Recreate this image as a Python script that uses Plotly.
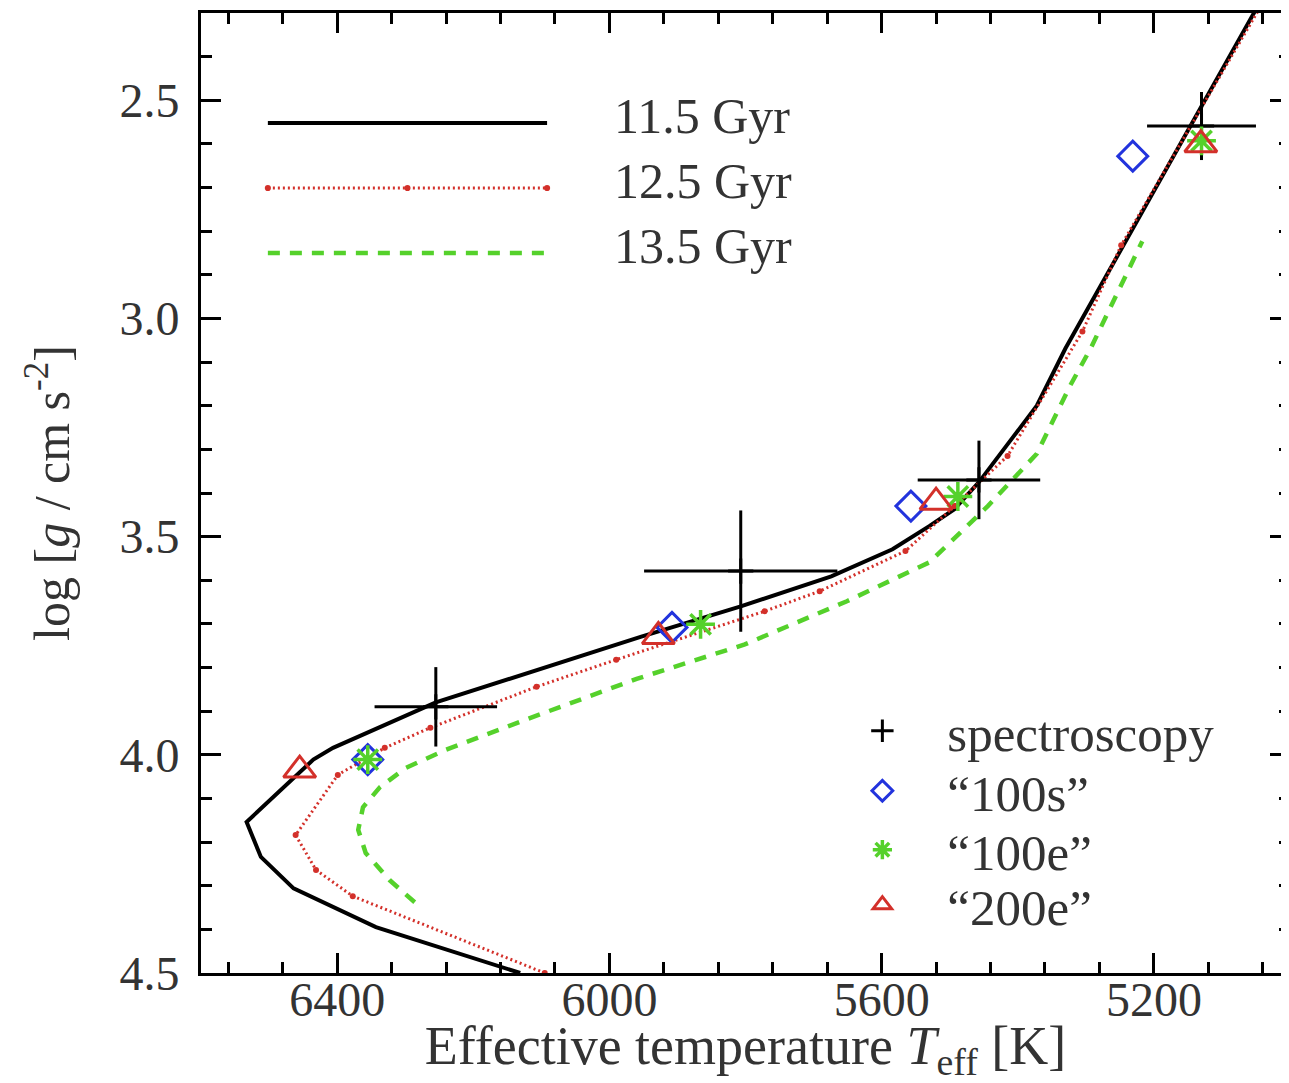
import plotly.graph_objects as go

# ---------------- data ----------------
teff_115 = [6131, 6343, 6464, 6512, 6533, 6435, 6406, 6255, 5953, 5807, 5674, 5584, 5530, 5493, 5457, 5372, 5330, 5035]
logg_115 = [4.50, 4.395, 4.306, 4.234, 4.154, 4.011, 3.984, 3.880, 3.729, 3.660, 3.591, 3.529, 3.476, 3.437, 3.375, 3.200, 3.069, 2.25]

teff_125 = [6095, 6377, 6431, 6461, 6399, 6330, 6263, 6107, 5990, 5772, 5691, 5565, 5493, 5415, 5305, 5248, 5030]
logg_125 = [4.50, 4.324, 4.264, 4.184, 4.046, 3.984, 3.938, 3.844, 3.782, 3.671, 3.625, 3.533, 3.430, 3.315, 3.030, 2.832, 2.25]

teff_135 = [6286, 6323, 6358, 6369, 6362, 6337, 6299, 6241, 6124, 5960, 5801, 5651, 5530, 5444, 5372, 5323, 5293, 5217]
logg_135 = [4.338, 4.287, 4.225, 4.172, 4.120, 4.074, 4.030, 3.989, 3.920, 3.826, 3.747, 3.648, 3.559, 3.430, 3.310, 3.154, 3.069, 2.823]

spec_teff = [6255, 5807, 5457, 5130]
spec_logg = [3.89, 3.579, 3.370, 2.559]
spec_teff_err = [90, 142, 90, 80]
spec_logg_err = [0.091, 0.139, 0.090, 0.078]

s100_teff = [6355, 5908, 5557, 5231]
s100_logg = [4.011, 3.708, 3.430, 2.628]

e100_teff = [6355, 5866, 5488, 5130]
e100_logg = [4.011, 3.701, 3.408, 2.593]

e200_teff = [6455, 5928, 5520, 5131]
e200_logg = [4.035, 3.729, 3.421, 2.602]

age_labels = ["11.5 Gyr", "12.5 Gyr", "13.5 Gyr"]
point_labels = ["spectroscopy", "\u201c100s\u201d", "\u201c100e\u201d", "\u201c200e\u201d"]

x_ticks = [6400, 6000, 5600, 5200]
y_ticks = [2.5, 3.0, 3.5, 4.0, 4.5]

# ---------------- styles ----------------
BLACK = "black"
RED = "#d3302a"
GREEN = "#55d12b"
BLUE = "#2233dd"
TEXT = "#333333"
FONT = "Liberation Serif"

RED_LINE = dict(color=RED, width=3, dash="2px,3px")
GREEN_LINE = dict(color=GREEN, width=4.5, dash="12px,10px")
BLACK_LINE = dict(color=BLACK, width=4)

fig = go.Figure()

fig.add_trace(go.Scatter(x=teff_115, y=logg_115, mode="lines",
                         line=BLACK_LINE, showlegend=False))
fig.add_trace(go.Scatter(x=teff_125, y=logg_125, mode="lines+markers",
                         line=RED_LINE, marker=dict(color=RED, size=6), showlegend=False))
fig.add_trace(go.Scatter(x=teff_135, y=logg_135, mode="lines",
                         line=GREEN_LINE, showlegend=False))

fig.add_trace(go.Scatter(
    x=spec_teff, y=spec_logg, mode="markers", name=point_labels[0], legend="legend",
    marker=dict(symbol="cross-thin-open", size=18, color=BLACK, line=dict(color=BLACK, width=3)),
    error_x=dict(type="data", array=spec_teff_err, width=0, thickness=3, color=BLACK),
    error_y=dict(type="data", array=spec_logg_err, width=0, thickness=3, color=BLACK)))
fig.add_trace(go.Scatter(
    x=s100_teff, y=s100_logg, mode="markers", name=point_labels[1], legend="legend2",
    marker=dict(symbol="diamond-open", size=23, color=BLUE, line=dict(color=BLUE, width=3))))
fig.add_trace(go.Scatter(
    x=e100_teff, y=e100_logg, mode="markers", name=point_labels[2], legend="legend3",
    marker=dict(symbol="asterisk-open", size=24, color=GREEN, line=dict(color=GREEN, width=3.5))))
fig.add_trace(go.Scatter(
    x=e200_teff, y=e200_logg, mode="markers", name=point_labels[3], legend="legend4",
    marker=dict(symbol="triangle-up-open", size=28, color=RED, line=dict(color=RED, width=3))))

# ---------------- line legend (drawn) ----------------
leg_y = [0.8854, 0.8177, 0.750]
leg_ty = [0.8927, 0.8250, 0.7573]
leg_x0, leg_x1, leg_tx = 0.0614, 0.3178, 0.3773
styles = [BLACK_LINE, RED_LINE, GREEN_LINE]
shapes = []
for yy, st in zip(leg_y, styles):
    shapes.append(dict(type="line", xref="paper", yref="paper", x0=leg_x0, x1=leg_x1,
                       y0=yy, y1=yy, line=st))
for xx in (leg_x0, (leg_x0 + leg_x1) / 2, leg_x1):
    shapes.append(dict(type="circle", xref="paper", yref="paper",
                       x0=xx - 0.0028, x1=xx + 0.0028, y0=leg_y[1] - 0.0032, y1=leg_y[1] + 0.0032,
                       fillcolor=RED, line=dict(width=0)))
annotations = []
for yy, lab in zip(leg_ty, age_labels):
    annotations.append(dict(xref="paper", yref="paper", x=leg_tx, y=yy, text=lab,
                            showarrow=False, xanchor="left", yanchor="middle",
                            font=dict(family=FONT, size=50, color=TEXT)))

axis_common = dict(
    showline=True, linewidth=3, linecolor=BLACK, mirror="ticks",
    ticks="inside", ticklen=20, tickwidth=3, tickcolor=BLACK,
    showgrid=False, zeroline=False,
    tickfont=dict(family=FONT, size=48, color=TEXT),
)

legend_common = dict(xanchor="left", yanchor="middle", bgcolor="rgba(0,0,0,0)",
                     font=dict(family=FONT, size=51, color=TEXT), itemwidth=120)
sym_leg_x = 0.566
sym_leg_y = [0.2520, 0.1895, 0.1281, 0.0708]

fig.update_layout(
    width=1287, height=1075,
    margin=dict(l=193, r=2, t=5, b=110),
    plot_bgcolor="white", paper_bgcolor="white",
    font=dict(family=FONT, size=48, color=TEXT),
    shapes=shapes, annotations=annotations,
    xaxis=dict(range=[6600, 5000], tickmode="array", tickvals=x_ticks,
               ticktext=[str(v) for v in x_ticks],
               minor=dict(tick0=5200, dtick=80, ticks="inside", ticklen=11, tickwidth=3, tickcolor=BLACK),
               ticklabelstandoff=-18,
               title=dict(text="Effective temperature <i>T</i><sub>eff</sub> [K]",
                          font=dict(family=FONT, size=54, color=TEXT), standoff=18),
               **axis_common),
    yaxis=dict(range=[4.5, 2.3], tickmode="array", tickvals=y_ticks,
               ticktext=["%.1f" % v for v in y_ticks],
               minor=dict(tick0=2.5, dtick=0.1, ticks="inside", ticklen=11, tickwidth=3, tickcolor=BLACK),
               ticklabelstandoff=9,
               title=dict(text="log [<i>g</i> / cm s<sup>-2</sup>]",
                          font=dict(family=FONT, size=50, color=TEXT), standoff=34),
               **axis_common),
    legend=dict(x=sym_leg_x, y=sym_leg_y[0], **legend_common),
    legend2=dict(x=sym_leg_x, y=sym_leg_y[1], **legend_common),
    legend3=dict(x=sym_leg_x, y=sym_leg_y[2], **legend_common),
    legend4=dict(x=sym_leg_x, y=sym_leg_y[3], **legend_common),
)

fig.write_html("out.html")
